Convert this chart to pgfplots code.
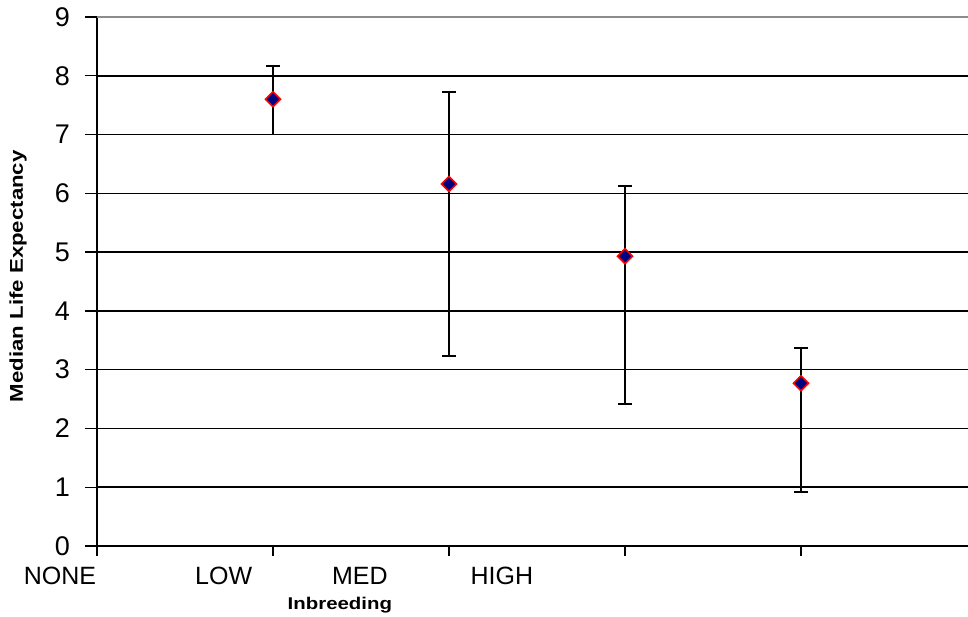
\documentclass[border=0pt]{standalone}
\usepackage{pgfplots}
\pgfplotsset{compat=1.18}
\usepackage{fontspec}
\setmainfont{Liberation Sans}
\newfontfamily\lblfont[FakeStretch=1.2]{Liberation Sans Bold}
\definecolor{navyfill}{RGB}{0,0,128}
\begin{document}
\begin{tikzpicture}
\useasboundingbox (-97pt,-70pt) rectangle (871pt,546pt);
\begin{axis}[
  at={(0,0)}, anchor=south west,
  scale only axis, width=880pt, height=529pt,
  xmin=0, xmax=5, ymin=0, ymax=9,
  axis lines=left, axis line style={-, line width=1.6pt, black},
  clip=false,
  xtick={0,1,2,3,4,5}, xticklabels={},
  ytick={0,1,2,3,4,5,6,7,8},
  extra y ticks={9},
  extra y tick style={grid style={gray!90, line width=1.6pt}},
  ymajorgrids, grid style={black, line width=1.6pt},
  tick align=outside,
  major tick length=12pt,
  xtick style={/pgfplots/major tick length=10pt},
  tick style={black, line width=1.4pt},
  yticklabel style={font=\fontsize{27}{30}\selectfont, inner sep=0pt, xshift=-15pt},
  /pgf/number format/assume math mode=true,
]
\addplot[only marks, mark=square*, mark size=5.3pt,
  mark options={rotate=45, fill=navyfill, draw=red, line width=1.6pt},
  error bars/.cd, y dir=both, y explicit,
  error bar style={black, line width=1.6pt},
  error mark options={black, line width=1.6pt, mark size=7pt, rotate=90}]
  table[x=x, y=y, y error plus=ep, y error minus=em] {
  x y ep em
  1 7.60 0.57 0.60
  2 6.16 1.56 2.93
  3 4.93 1.19 2.51
  4 2.77 0.60 1.85
  };
\def\xf{\fontsize{25}{28}\selectfont}
\node[anchor=base, inner sep=0pt, yshift=-38pt, font=\xf] at (axis cs:-0.21,0) {NONE};
\node[anchor=base, inner sep=0pt, yshift=-38pt, font=\xf] at (axis cs:0.72,0) {LOW};
\node[anchor=base, inner sep=0pt, yshift=-38pt, font=\xf] at (axis cs:1.494,0) {MED};
\node[anchor=base, inner sep=0pt, yshift=-38pt, font=\xf] at (axis cs:2.30,0) {HIGH};
\node[anchor=base, inner sep=0pt, yshift=-63pt, font=\lblfont\fontsize{17}{20}\selectfont] at (axis cs:1.38,0) {Inbreeding};
\node[anchor=base, rotate=90, inner sep=0pt, font=\lblfont\fontsize{18.5}{20}\selectfont] at ([xshift=-74pt]axis cs:0,4.59) {Median Life Expectancy};
\end{axis}
\end{tikzpicture}
\end{document}
